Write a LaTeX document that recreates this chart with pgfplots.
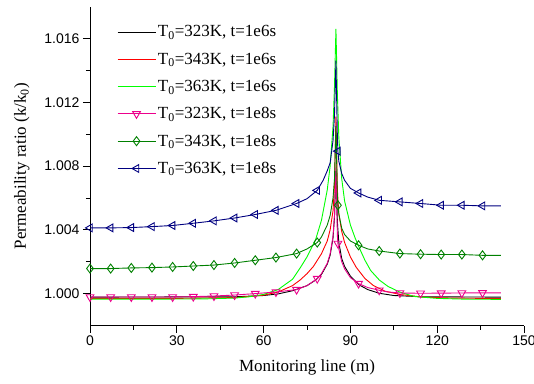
\documentclass[border=0pt]{standalone}
\usepackage{fontspec}
\setmainfont{Liberation Serif}
\setsansfont{Liberation Sans}
\usepackage{pgfplots}
\pgfplotsset{compat=1.18}
\definecolor{navyb}{RGB}{0,0,128}
\definecolor{dgreen}{RGB}{0,128,0}
\definecolor{lgreen}{RGB}{0,255,0}
\begin{document}
\begin{tikzpicture}
\begin{axis}[
  scale only axis, width=434pt, height=319pt,
  xmin=0, xmax=150, ymin=0.998, ymax=1.018,
  axis x line*=bottom, axis y line*=left,
  axis line style={-, line width=0.8pt},
  xtick={0,30,60,90,120,150},
  ytick={1.000,1.004,1.008,1.012,1.016},
  minor x tick num=1, minor y tick num=1,
  tick align=outside, major tick length=7pt, minor tick length=4pt,
  every tick/.style={black, line width=0.8pt},
  scaled y ticks=false,
  /pgf/number format/assume math mode=true,
  yticklabel style={/pgf/number format/.cd, fixed, fixed zerofill, precision=3},
  tick label style={font=\fontsize{14}{16}\selectfont\sffamily},
  xlabel={Monitoring line (m)},
  ylabel={Permeability ratio (k/k\textsubscript{0})},
  label style={font=\fontsize{17}{20}\selectfont},
  xlabel style={at={(axis description cs:0.5,-0.13)}, anchor=center},
  ylabel style={at={(axis description cs:-0.157,0.5)}, anchor=center},
  legend style={at={(rel axis cs:0.055,0.953)}, anchor=north west, draw=none, fill=none,
    font=\fontsize{17}{20}\selectfont, row sep=10.5pt, cells={anchor=west}},
  legend image code/.code={\draw[mark repeat=2,mark phase=2,#1] plot coordinates {(0pt,0pt) (19pt,0pt) (38pt,0pt)};},
  every axis plot/.append style={line width=0.9pt},
]
\coordinate (bbsw) at (rel axis cs:0,0);
\coordinate (bbne) at (rel axis cs:1,1);

% T0=323K, t=1e6s
\addplot[black] coordinates {(0,0.99978) (50,0.9998) (60,0.99988) (65,0.99998) (70,1.00018) (75,1.0005) (78,1.00085) (80,1.0012) (82,1.00185) (83,1.0024) (84,1.0035) (84.5,1.0048) (85,1.0077) (85.5,1.0045) (86,1.0032) (87,1.0022) (88,1.0017) (90,1.0011) (93,1.00055) (96,1.00025) (100,1.00002) (105,0.99988) (115,0.9998) (142,0.99978)};
\addlegendentry{T\textsubscript{0}=323K, t=1e6s}
% T0=343K, t=1e6s
\addplot[red] coordinates {(0,0.9997) (30,0.9997) (50,0.99975) (60,0.9999) (65,1.0001) (70,1.0005) (72.6,1.00085) (75,1.00125) (77.2,1.0017) (80,1.0025) (82,1.0033) (83,1.0040) (84,1.0052) (84.5,1.0068) (85,1.0111) (85.5,1.0065) (86,1.0050) (87,1.0039) (88,1.0032) (90,1.0023) (92,1.00165) (95,1.00095) (98,1.0005) (102,1.00015) (107,0.99995) (115,0.99978) (125,0.99972) (142,0.99969)};
\addlegendentry{T\textsubscript{0}=343K, t=1e6s}
% T0=363K, t=1e6s
\addplot[lgreen] coordinates {(0,0.99965) (20,0.99965) (40,0.99967) (50,0.99972) (55,0.9998) (60,0.99995) (65,1.00025) (70,1.0009) (72.6,1.0016) (75,1.0023) (78,1.0034) (80,1.0046) (82,1.0065) (83,1.0080) (84,1.0105) (84.5,1.0130) (85,1.0166) (85.5,1.0125) (86,1.0098) (87,1.0072) (88,1.0058) (90,1.0043) (91.6,1.0035) (93,1.0029) (95,1.0021) (97,1.00145) (100,1.00085) (103,1.00045) (107,1.0001) (112,0.99982) (120,0.9997) (130,0.99965) (142,0.99964)};
\addlegendentry{T\textsubscript{0}=363K, t=1e6s}

% T0=323K, t=1e8s
\addplot[magenta, forget plot] coordinates {(0,0.99979) (28.56,0.99979) (35.7,0.99981) (42.84,0.99985) (49.98,0.99991) (57.12,1.0000) (64.26,1.0001) (71.4,1.00025) (75,1.0005) (78.54,1.00094) (80,1.00125) (82,1.0019) (83,1.0025) (84,1.0036) (84.5,1.0049) (85,1.0079) (85.5,1.0036) (85.68,1.00314) (86,1.0028) (87,1.0020) (88,1.00155) (90,1.0010) (92.82,1.00063) (96,1.00038) (99.96,1.00021) (103,1.0001) (107.1,1.00004) (114.24,1.00002) (121.38,1.00003) (128.52,1.00004) (135.66,1.00005) (142,1.00005)};
\addplot[magenta, only marks, mark=triangle, mark size=4.5pt, mark options={rotate=180, solid}, forget plot] coordinates {(0,0.99979) (7.14,0.99979) (14.28,0.99979) (21.42,0.99979) (28.56,0.99979) (35.7,0.99981) (42.84,0.99985) (49.98,0.99991) (57.12,1.0000) (64.26,1.0001) (71.4,1.00025) (78.54,1.00094) (85.68,1.00314) (92.82,1.00063) (99.96,1.00021) (107.1,1.00004) (114.24,1.00002) (121.38,1.00003) (128.52,1.00004) (135.66,1.00005)};
\addlegendimage{magenta, line width=0.9pt, mark=triangle, mark size=4.5pt, mark options={rotate=180, solid}}
\addlegendentry{T\textsubscript{0}=323K, t=1e8s}

% T0=343K, t=1e8s
\addplot[dgreen, forget plot] coordinates {(0,1.00157) (7.14,1.00157) (14.28,1.00161) (21.42,1.00163) (28.56,1.00167) (35.7,1.00173) (42.84,1.00179) (49.98,1.00192) (57.12,1.00209) (64.26,1.00226) (71.4,1.00251) (75,1.0028) (78.54,1.0032) (80,1.00355) (82,1.0043) (83,1.0049) (84,1.0060) (84.5,1.0072) (85,1.0105) (85.5,1.0060) (85.68,1.00554) (86,1.0050) (87,1.0041) (88,1.0037) (90,1.0033) (92.82,1.00303) (96,1.0028) (99.96,1.00267) (107.1,1.00251) (114.24,1.00247) (121.38,1.00245) (128.52,1.00245) (135.66,1.0024) (142,1.0024)};
\addplot[dgreen, only marks, mark=diamond, mark size=4.5pt, mark options={solid}, forget plot] coordinates {(0,1.00157) (7.14,1.00157) (14.28,1.00161) (21.42,1.00163) (28.56,1.00167) (35.7,1.00173) (42.84,1.00179) (49.98,1.00192) (57.12,1.00209) (64.26,1.00226) (71.4,1.00251) (78.54,1.0032) (85.68,1.00554) (92.82,1.00303) (99.96,1.00267) (107.1,1.00251) (114.24,1.00247) (121.38,1.00245) (128.52,1.00245) (135.66,1.0024)};
\addlegendimage{dgreen, line width=0.9pt, mark=diamond, mark size=4.5pt, mark options={solid}}
\addlegendentry{T\textsubscript{0}=343K, t=1e8s}

% T0=363K, t=1e8s
\addplot[navyb, forget plot] coordinates {(0,1.00412) (7.14,1.00412) (14.28,1.00414) (21.42,1.0042) (28.56,1.00427) (35.7,1.00441) (42.84,1.00456) (49.98,1.00474) (57.12,1.00496) (64.26,1.00522) (71.4,1.00565) (75,1.00595) (78.54,1.00647) (80.6,1.00711) (82,1.0077) (83,1.0082) (84,1.0096) (84.5,1.0112) (85,1.0146) (85.5,1.0098) (85.68,1.00893) (86,1.0083) (87,1.00753) (88,1.0071) (90,1.0066) (92.82,1.00631) (96,1.00605) (99.96,1.00585) (107.1,1.00575) (114.24,1.00565) (121.38,1.00554) (128.52,1.00554) (135.66,1.0055) (142,1.0055)};
\addplot[navyb, only marks, mark=triangle, mark size=4.5pt, mark options={rotate=90, solid}, forget plot] coordinates {(0,1.00412) (7.14,1.00412) (14.28,1.00414) (21.42,1.0042) (28.56,1.00427) (35.7,1.00441) (42.84,1.00456) (49.98,1.00474) (57.12,1.00496) (64.26,1.00522) (71.4,1.00565) (78.54,1.00647) (85.68,1.00893) (92.82,1.00631) (99.96,1.00585) (107.1,1.00575) (114.24,1.00565) (121.38,1.00554) (128.52,1.00554) (135.66,1.0055)};
\addlegendimage{navyb, line width=0.9pt, mark=triangle, mark size=4.5pt, mark options={rotate=90, solid}}
\addlegendentry{T\textsubscript{0}=363K, t=1e8s}
\end{axis}
\pgfresetboundingbox
\path[use as bounding box] ([shift={(-90pt,-57.5pt)}]bbsw) rectangle ([shift={(10pt,6.5pt)}]bbne);
\end{tikzpicture}
\end{document}
